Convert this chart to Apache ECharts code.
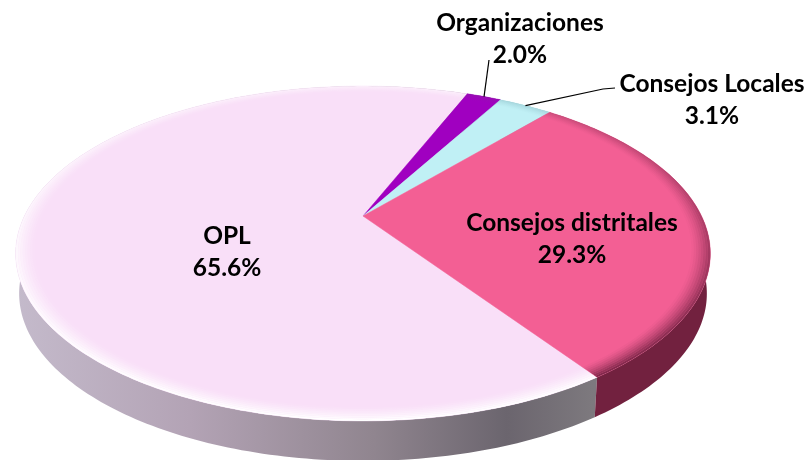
<!DOCTYPE html>
<html>
<head>
<meta charset="utf-8">
<style>
  html, body { margin: 0; padding: 0; background: #fff; }
  #chart { width: 807px; height: 460px; }
</style>
<script src="https://cdn.jsdelivr.net/npm/echarts@6/dist/echarts.min.js"></script>
</head>
<body>
<div id="chart"></div>
<script>
// slices, clockwise starting at the seam on the lower right
const names = ['OPL', 'Organizaciones', 'Consejos Locales', 'Consejos distritales']
const values = [65.6, 2.0, 3.1, 29.3]

const topColors = ['#f9dff8', '#a000c0', '#c0f0f5', '#f35f94']
const wallColors = [
  [[0, '#c4bacb'], [0.3, '#b3a3b5'], [0.62, '#90858f'], [0.85, '#6b656e'], [1, '#7d797e']],
  [[0, '#5a0070'], [1, '#5a0070']],
  [[0, '#7a9a9e'], [1, '#7a9a9e']],
  [[0, '#72213f'], [1, '#72213f']]
]
// overlay on the rim: colour, alpha at the back, alpha at the front
const bevels = [
  ['255,255,255', 0.5, 1],
  ['120,60,130', 0.2, 0.2],
  ['120,170,180', 0.35, 0.2],
  ['110,31,63', 0.22, 0.95]
]
const labelPos = [[227, 252], [520, 39], [712, 100], [572, 239]]
const labelLines = [null, [[489, 60]], [[615, 88], [603, 89]], null]

// perspective disc
const cx = 363
const cy = 216
const radX = 338.5
const radY = 159
const persp = 0.224
const depth = 40
const startAngle = 145.7

const total = values.reduce((a, b) => a + b, 0)

function sliceRange(i) {
  let from = startAngle
  for (let k = 0; k < i; k++) from += values[k] / total * 360
  return [from, from + values[i] / total * 360]
}

function project(deg, r, dy, shrink) {
  const t = deg * Math.PI / 180
  const u = r * Math.sin(t)
  const v = -r * Math.cos(t)
  const w = 1 - persp * v
  return [cx + radX * shrink * u / w, cy + dy + radY * v / w]
}

function arc(from, to, r, dy, shrink) {
  const pts = []
  const n = Math.max(2, Math.ceil(Math.abs(to - from)))
  for (let i = 0; i <= n; i++) {
    pts.push(project(from + (to - from) * i / n, r, dy, shrink))
  }
  return pts
}

function renderWall(params, api) {
  const i = api.value(0)
  const [from, to] = sliceRange(i)
  const points = arc(from, to, 1, 0, 1).concat(arc(to, from, 1, depth, 0.99))
  return {
    type: 'polygon',
    shape: { points },
    style: {
      fill: new echarts.graphic.LinearGradient(17, 0, 593, 0, wallColors[i].map(s => ({ offset: s[0], color: s[1] })), true)
    }
  }
}

function renderTop(params, api) {
  const i = api.value(0)
  const [from, to] = sliceRange(i)
  const children = [{
    type: 'polygon',
    shape: { points: [project(0, 0, 0, 1)].concat(arc(from, to, 1, 0, 1)) },
    style: { fill: topColors[i], stroke: topColors[i], lineWidth: 0.5 }
  }]
  // soft edge, ring by ring
  const rings = 8
  const [rgb, backAlpha, frontAlpha] = bevels[i]
  for (let k = 0; k < rings; k++) {
    const r0 = 1 - k * 0.0065
    const r1 = 1 - (k + 1) * 0.0065
    const fade = Math.pow(1 - k / rings, 1.4)
    children.push({
      type: 'polygon',
      shape: { points: arc(from, to, r0, 0, 1).concat(arc(to, from, r1, 0, 1)) },
      style: {
        fill: new echarts.graphic.LinearGradient(0, 86, 0, 421, [
          { offset: 0, color: `rgba(${rgb},${backAlpha * fade})` },
          { offset: 1, color: `rgba(${rgb},${frontAlpha * fade})` }
        ], true)
      }
    })
  }
  return { type: 'group', children }
}

function renderLabel(params, api) {
  const i = api.value(0)
  const [x, y] = labelPos[i]
  const children = [{
    type: 'text',
    style: {
      text: names[i] + '\n' + values[i].toFixed(1) + '%',
      x,
      y,
      fill: '#000',
      font: 'bold 24.5px Lato',
      lineHeight: 32,
      align: 'center',
      verticalAlign: 'middle'
    }
  }]
  if (labelLines[i]) {
    const [from, to] = sliceRange(i)
    const points = labelLines[i].concat([project((from + to) / 2, 1, 0, 1)])
    children.push({
      type: 'polyline',
      shape: { points },
      style: { stroke: '#000', lineWidth: 1.2, fill: null }
    })
  }
  return { type: 'group', children }
}

const chart = echarts.init(document.getElementById('chart'))
const rows = values.map((v, i) => [i, v])
chart.setOption({
  animation: false,
  backgroundColor: '#fff',
  series: [
    { type: 'custom', coordinateSystem: 'none', data: rows, renderItem: renderWall, z: 1, silent: true },
    { type: 'custom', coordinateSystem: 'none', data: rows, renderItem: renderTop, z: 2, silent: true },
    { type: 'custom', coordinateSystem: 'none', data: rows, renderItem: renderLabel, z: 3, silent: true }
  ]
})
</script>
</body>
</html>
